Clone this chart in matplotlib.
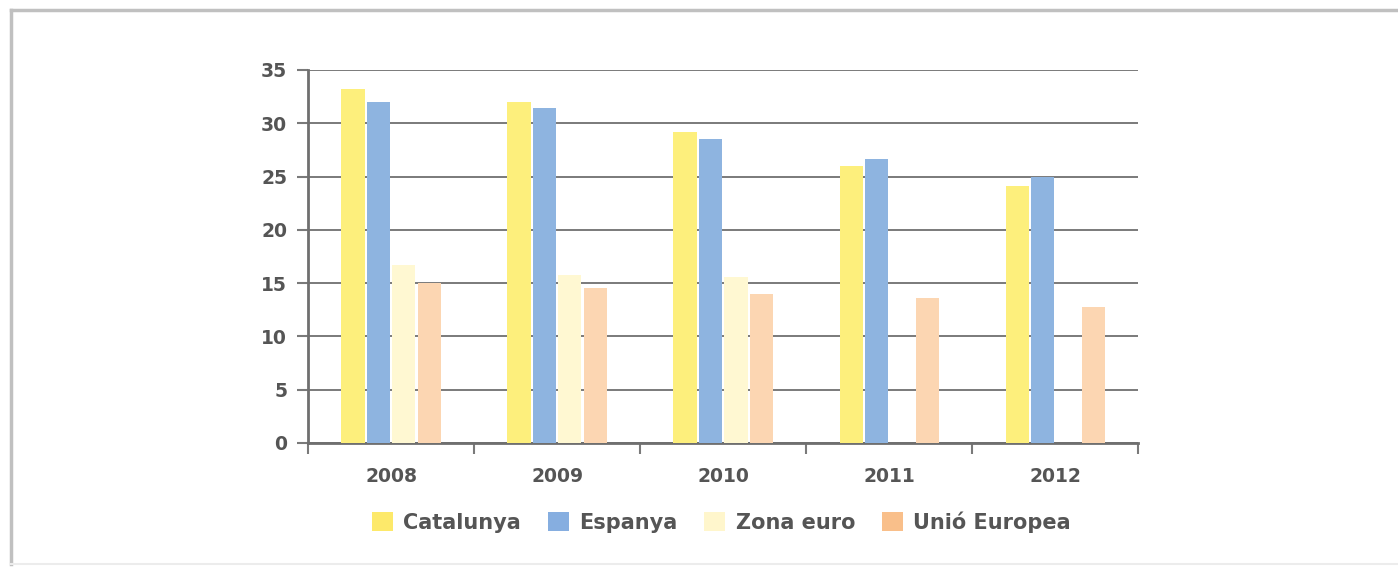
import matplotlib.pyplot as plt
import numpy as np
from matplotlib.patches import Patch

years = ['2008', '2009', '2010', '2011', '2012']
catalunya = [33.2, 32.0, 29.2, 26.0, 24.1]
espanya = [32.0, 31.4, 28.5, 26.6, 25.0]
zona_euro = [16.7, 15.8, 15.6, np.nan, np.nan]
unio_europea = [15.0, 14.5, 14.0, 13.6, 12.8]

series = [
    ('Catalunya', catalunya, '#fdef7c'),
    ('Espanya', espanya, '#8eb4e0'),
    ('Zona euro', zona_euro, '#fff8d2'),
    ('Unió Europea', unio_europea, '#fcd6b2'),
]
legend_colors = ['#fde96a', '#86aee0', '#fff6cc', '#f9bf8a']

plt.rcParams['font.family'] = ['DejaVu Sans']
txt_col = '#555555'

fig = plt.figure(figsize=(13.98, 5.73), dpi=100)
ax = fig.add_axes([0.2203, 0.2269, 0.594, 0.651])

x = np.arange(len(years))
slot = 0.153
for i, (name, vals, col) in enumerate(series):
    ax.bar(x + (i - 1.5) * slot, vals, width=0.14, color=col, zorder=3)

ax.set_xlim(-0.5, len(years) - 0.5)
ax.set_ylim(0, 35)
ax.set_yticks(range(0, 36, 5))
ax.yaxis.grid(True, color='#7a7a7a', linewidth=1.4, zorder=0)
ax.set_axisbelow(True)

ax.set_xticks(x)
ax.set_xticklabels(years)
ax.set_xticks(np.arange(-0.5, len(years)), minor=True)
ax.tick_params(axis='x', which='major', length=0, pad=17)
ax.tick_params(axis='x', which='minor', length=8, width=1.5, color='#7a7a7a', direction='out')
ax.tick_params(axis='y', length=8, width=1.5, color='#7a7a7a', pad=7)
ax.tick_params(labelsize=13.5, labelcolor=txt_col)
for lab in ax.get_xticklabels() + ax.get_yticklabels():
    lab.set_fontweight('bold')

for s in ['top', 'right']:
    ax.spines[s].set_visible(False)
ax.spines['left'].set_color('#6f6f6f')
ax.spines['left'].set_linewidth(2)
ax.spines['bottom'].set_color('#6f6f6f')
ax.spines['bottom'].set_linewidth(2)

handles = [Patch(facecolor=c, edgecolor='none') for c in legend_colors]
fig.legend(handles, [s[0] for s in series], loc='center', bbox_to_anchor=(0.516, 0.089),
           ncol=4, frameon=False, handlelength=1.0, handleheight=1.0, handletextpad=0.5,
           columnspacing=1.3, prop={'size': 15, 'weight': 'bold'}, labelcolor=txt_col)

# outer frame
fig.add_artist(plt.Line2D([0.008, 0.008], [0.015, 0.983], color='#c0c0c0', lw=2.5, transform=fig.transFigure))
fig.add_artist(plt.Line2D([0.008, 1.0], [0.983, 0.983], color='#c0c0c0', lw=2.5, transform=fig.transFigure))
fig.add_artist(plt.Line2D([0.008, 1.0], [0.015, 0.015], color='#ececec', lw=1.5, transform=fig.transFigure))

fig.savefig('out.png', dpi=100)
